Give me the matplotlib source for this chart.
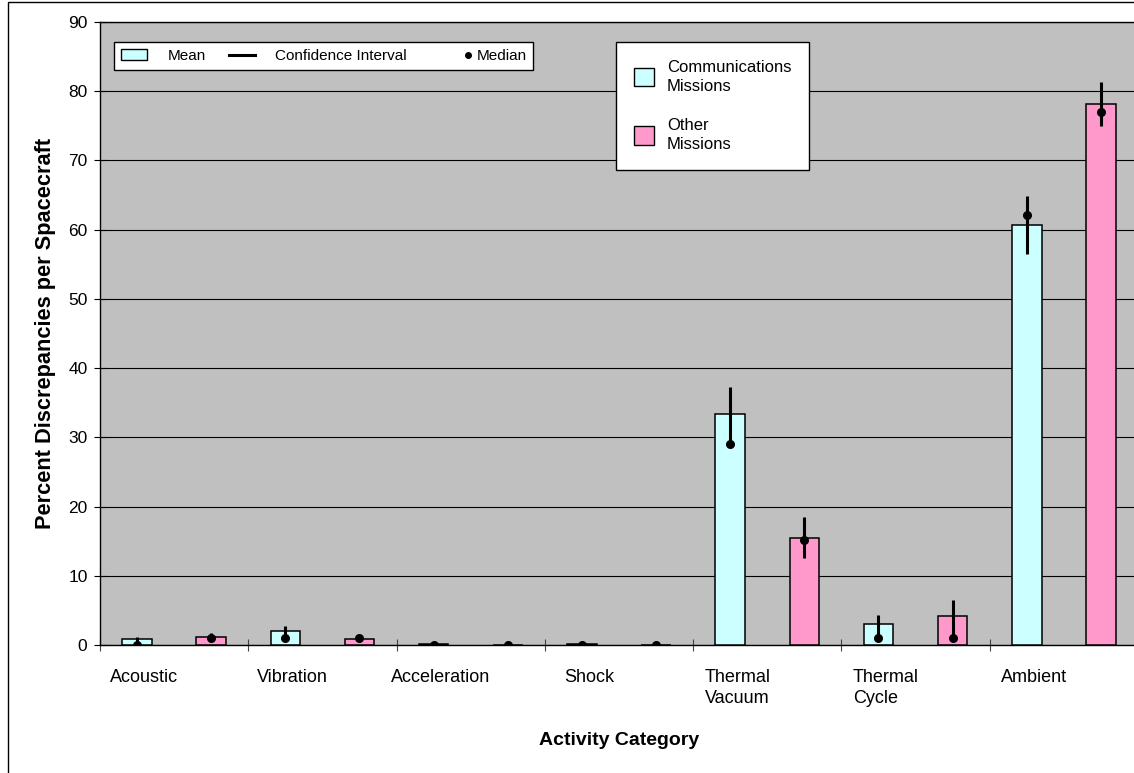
import matplotlib
matplotlib.use("Agg")
import matplotlib.pyplot as plt
import numpy as np
from matplotlib.patches import Patch, Rectangle
from matplotlib.lines import Line2D
from matplotlib.legend_handler import HandlerLine2D

plt.rcParams['font.family'] = ['Liberation Sans', 'DejaVu Sans']

categories = ['Acoustic', 'Vibration', 'Acceleration', 'Shock',
              'Thermal\nVacuum', 'Thermal\nCycle', 'Ambient']

# communications missions
comm_mean = [0.8, 2.0, 0.1, 0.2, 33.3, 3.0, 60.7]
comm_median = [0.0, 1.0, 0.0, 0.0, 29.1, 1.0, 62.1]
comm_low = [0.2, 1.3, 0.1, 0.2, 29.3, 1.5, 56.5]
comm_high = [1.2, 2.7, 0.1, 0.2, 37.3, 4.3, 64.9]

# other missions
other_mean = [1.1, 0.8, 0.0, 0.0, 15.5, 4.2, 78.2]
other_median = [1.0, 1.0, 0.0, 0.0, 15.2, 1.0, 77.0]
other_low = [0.6, 0.5, 0.0, 0.0, 12.5, 1.5, 75.0]
other_high = [1.7, 1.2, 0.0, 0.0, 18.5, 6.5, 81.4]

cyan = '#CCFFFF'
pink = '#FF99CC'


class DotNearText(HandlerLine2D):
    # put the legend dot right next to its label, like the original
    def get_xdata(self, legend, xdescent, ydescent, width, height, fontsize):
        x0 = width - xdescent + 4
        return np.array([x0, x0 + 10]), np.array([x0 + 5])


W, H = 1134, 773
fig = plt.figure(figsize=(W / 100, H / 100), dpi=100)
ax = fig.add_axes([100 / W, (H - 645) / H, 1038 / W, 623 / H])
ax.set_facecolor('#C0C0C0')

x = np.arange(len(categories))
cm = np.array(comm_mean)
om = np.array(other_mean)

ax.bar(x + 0.25, cm, width=0.2, color=cyan, edgecolor='black', linewidth=1.1, zorder=3)
ax.bar(x + 0.75, om, width=0.2, color=pink, edgecolor='black', linewidth=1.1, zorder=3)

ax.errorbar(x + 0.25, cm, yerr=[cm - np.array(comm_low), np.array(comm_high) - cm],
            fmt='none', ecolor='black', elinewidth=2.2, capsize=0, zorder=4)
ax.errorbar(x + 0.75, om, yerr=[om - np.array(other_low), np.array(other_high) - om],
            fmt='none', ecolor='black', elinewidth=2.2, capsize=0, zorder=4)

ax.plot(x + 0.25, comm_median, 'o', color='black', ms=5.5, zorder=5)
ax.plot(x + 0.75, other_median, 'o', color='black', ms=5.5, zorder=5)

ax.set_xlim(0, 7)
ax.set_ylim(0, 90)
ax.set_yticks(range(0, 91, 10))
ax.yaxis.grid(True, color='black', linewidth=0.8)
ax.set_axisbelow(True)

ax.set_xticks(range(0, 8))
ax.set_xticklabels([])
ax.set_xticks(x + 0.3, minor=True)
ax.set_xticklabels(categories, minor=True, fontsize=13)
for lab in ax.get_xticklabels(minor=True):
    lab.set_multialignment('left')
    lab.set_linespacing(1.3)
ax.tick_params(axis='x', which='major', direction='inout', length=8, width=0.8, color='#444444')
ax.tick_params(axis='x', which='minor', length=0, pad=17)
ax.tick_params(axis='y', direction='inout', length=8, width=0.8, labelsize=12.5, pad=5)

for s in ['left', 'bottom', 'top']:
    ax.spines[s].set_color('black')
    ax.spines[s].set_linewidth(1.0)
ax.spines['right'].set_visible(False)

ax.set_xlabel('Activity Category', fontsize=14, fontweight='bold', labelpad=18)
ax.set_ylabel('Percent Discrepancies per Spacecraft', fontsize=15.7, fontweight='bold', labelpad=9)

# legend for mean / CI / median
median_handle = Line2D([], [], color='black', marker='o', linestyle='none', ms=4)
h1 = [Patch(facecolor=cyan, edgecolor='black', linewidth=1.0),
      Line2D([], [], color='black', linewidth=2.2),
      median_handle]
leg1 = ax.legend(h1, ['Mean', 'Confidence Interval', 'Median'], ncol=3,
                 loc='upper left', bbox_to_anchor=(114 / W, 1 - 42 / H),
                 bbox_transform=fig.transFigure, borderaxespad=0, fontsize=11,
                 handlelength=1.7, handleheight=0.65, handletextpad=1.35,
                 columnspacing=1.5, borderpad=0.45, fancybox=False, framealpha=1,
                 handler_map={median_handle: DotNearText(numpoints=1)})
leg1.get_frame().set_edgecolor('black')
leg1.get_frame().set_linewidth(1.0)
ax.add_artist(leg1)

h2 = [Patch(facecolor=cyan, edgecolor='black', linewidth=1.0),
      Patch(facecolor=pink, edgecolor='black', linewidth=1.0)]
leg2 = ax.legend(h2, ['Communications\nMissions', 'Other\nMissions'],
                 loc='upper left', bbox_to_anchor=(616 / W, 1 - 42 / H),
                 bbox_transform=fig.transFigure, borderaxespad=0, fontsize=12,
                 handlelength=1.2, handleheight=1.3, handletextpad=0.8,
                 labelspacing=1.4, borderpad=1.05, fancybox=False, framealpha=1)
for t in leg2.get_texts():
    t.set_linespacing(1.4)
leg2.get_frame().set_edgecolor('black')
leg2.get_frame().set_linewidth(1.0)

# chart area border
fig.patches.append(Rectangle((7.5 / W, -0.05), 1.0, 1.05 - 2.0 / H, transform=fig.transFigure,
                             fill=False, edgecolor='black', linewidth=1.0))

fig.savefig('out.png', dpi=100)
